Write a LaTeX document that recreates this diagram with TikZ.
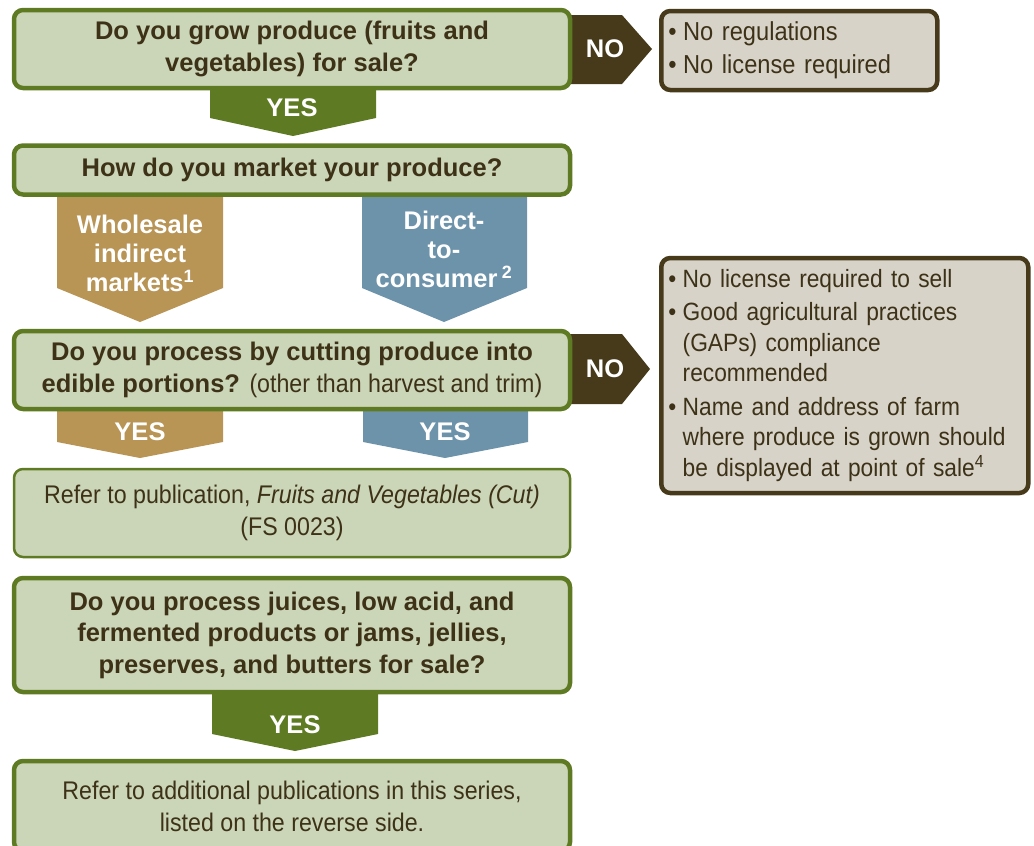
\documentclass[tikz,border=0pt]{standalone}
\usepackage{fontspec}
\setmainfont{Liberation Sans}[FakeStretch=0.91]
\newfontfamily\wfont{Liberation Sans}
\definecolor{boxfill}{HTML}{CBD5B7}
\definecolor{boxline}{HTML}{5E7B23}
\definecolor{txt}{HTML}{3D3218}
\definecolor{nofill}{HTML}{D7D3C8}
\definecolor{noline}{HTML}{463A1B}
\definecolor{tan}{HTML}{B89455}
\definecolor{bluec}{HTML}{6D93AB}
\newcommand{\bul}{•\hspace{6.5pt}}
\newcommand{\ind}{\phantom{•}\hspace{6.5pt}}
\begin{document}
\begin{tikzpicture}[x=1pt,y=-1pt,
  qbox/.style={draw=boxline, fill=boxfill, line width=4.5pt, rounded corners=9pt,
     minimum width=556pt, text=txt, align=center, font=\wfont\fontsize{25.5}{31.5}\selectfont\bfseries, inner sep=0pt},
  rbox/.style={qbox, font=\fontsize{25.5}{32}\selectfont},
  nbox/.style={draw=noline, fill=nofill, line width=4.5pt, rounded corners=9pt,
     text=txt, align=left, font=\fontsize{25}{30.5}\selectfont, inner xsep=7pt, inner ysep=0pt, anchor=west},
  lbl/.style={text=white, font=\wfont\fontsize{25.5}{29}\selectfont\bfseries, align=center, inner sep=0pt},
]
\useasboundingbox (0,0) rectangle (1034,846);

% arrows (drawn first, under boxes)
\fill[boxline] (210,88) -- (376,88) -- (376,118) -- (293,136) -- (210,118) -- cycle;
\node[lbl] (yes1) at (292,108) {YES};
\fill[noline] (568,15) -- (622,15) -- (652,49) -- (622,84) -- (568,84) -- cycle;
\node[lbl] (no1) at (605,49) {NO};
\fill[tan] (57,195) -- (223,195) -- (223,288) -- (140,322) -- (57,288) -- cycle;
\node[lbl] (whole) at (140,253) {Wholesale\\indirect\\markets\textsuperscript{1}};
\fill[bluec] (362,195) -- (527,195) -- (527,288) -- (444,322) -- (362,288) -- cycle;
\node[lbl] (direct) at (444,249) {Direct-\\to-\\consumer\,\textsuperscript{2}};
\fill[noline] (568,334) -- (622,334) -- (650,369) -- (622,404) -- (568,404) -- cycle;
\node[lbl] (no2) at (605,369) {NO};
\fill[tan] (57,409) -- (223,409) -- (223,442) -- (140,458) -- (57,442) -- cycle;
\node[lbl] (yes2a) at (140,432) {YES};
\fill[bluec] (363,409) -- (528,409) -- (528,442) -- (445,458) -- (363,442) -- cycle;
\node[lbl] (yes2b) at (445,432) {YES};
\fill[boxline] (212,693) -- (378,693) -- (378,734) -- (295,751) -- (212,734) -- cycle;
\node[lbl] (yes3) at (295,725) {YES};

% boxes
\node[qbox, minimum height=78pt] (q1) at (292,49) {Do you grow produce (fruits and\\vegetables) for sale?};
\node[nbox, minimum width=276pt, minimum height=79pt, text width=262pt, font=\fontsize{26}{33}\selectfont] (n1) at (659,50.5)
  {\bul No regulations\\\bul No license required};
\node[qbox, minimum height=49pt] (q2) at (292,170) {How do you market your produce?};
\node[qbox, minimum height=78pt] (q3) at (292,370) {Do you process by cutting produce into\\edible portions? {\rmfamily\mdseries(other than harvest and trim)}};
\node[nbox, minimum width=367pt, minimum height=235pt, text width=353pt] (n2) at (659,375.5)
  {\raisebox{-2pt}{\parbox{353pt}{\raggedright
  \bul No license required to sell\\[3pt]
  \bul Good agricultural practices\\
  \ind (GAPs) compliance\\
  \ind recommended\\[3pt]
  \bul Name and address of farm\\
  \ind where produce is grown should\\
  \ind be displayed at point of sale\textsuperscript{4}}}};
\node[rbox, line width=2.5pt, minimum height=88pt] (r1) at (292,513) {Refer to publication, \textit{Fruits and Vegetables (Cut)}\\(FS 0023)};
\node[qbox, minimum height=114pt] (q4) at (292,635) {Do you process juices, low acid, and\\fermented products or jams, jellies,\\preserves, and butters for sale?};
\node[rbox, minimum height=90pt] (r2) at (292,806) {Refer to additional publications in this series,\\listed on the reverse side.};
\end{tikzpicture}
\end{document}
